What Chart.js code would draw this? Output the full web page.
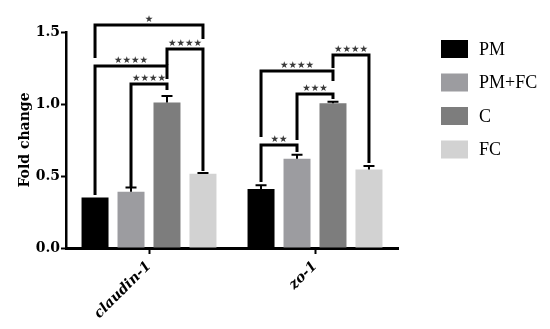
<!DOCTYPE html>
<html>
<head>
<meta charset="utf-8">
<script src="https://cdn.jsdelivr.net/npm/chart.js@4.4.1/dist/chart.umd.min.js"></script>
<style>
  html, body { margin: 0; padding: 0; background: #fff; }
  canvas { display: block; }
</style>
</head>
<body>
<canvas id="chart" width="550" height="329"></canvas>
<script>
// categories and groups
const categories = ["claudin-1", "zo-1"];
const groupNames = ["PM", "PM+FC", "C", "FC"];
const groupColors = ["#000000", "#9c9ca0", "#7d7d7d", "#d2d2d2"];

// mean fold change per group (claudin-1, zo-1)
const pmValues = [0.35, 0.41];
const pmFcValues = [0.39, 0.62];
const cValues = [1.01, 1.005];
const fcValues = [0.515, 0.546];

// upper error (SEM)
const pmErrors = [0.0, 0.025];
const pmFcErrors = [0.03, 0.028];
const cErrors = [0.045, 0.01];
const fcErrors = [0.005, 0.023];

const yTicks = [0, 0.5, 1.0, 1.5];

// significance brackets: category, from group, to group, level, leg ends (data units)
const claudinBrackets = [
  { cat: 0, from: 0, to: 3, top: 1.549, leftEnd: 1.319, rightEnd: 1.451, label: "*" },
  { cat: 0, from: 0, to: 2, top: 1.264, leftEnd: 0.368, rightEnd: 1.174, label: "****" },
  { cat: 0, from: 2, to: 3, top: 1.382, leftEnd: 1.271, rightEnd: 0.535, label: "****" },
  { cat: 0, from: 1, to: 2, top: 1.139, leftEnd: 0.424, rightEnd: 1.097, label: "****" }
];
const zoBrackets = [
  { cat: 1, from: 0, to: 1, top: 0.715, leftEnd: 0.458, rightEnd: 0.667, label: "**" },
  { cat: 1, from: 0, to: 2, top: 1.229, leftEnd: 0.771, rightEnd: 1.16, label: "****" },
  { cat: 1, from: 1, to: 2, top: 1.069, leftEnd: 0.75, rightEnd: 1.035, label: "***" },
  { cat: 1, from: 2, to: 3, top: 1.34, leftEnd: 1.25, rightEnd: 0.59, label: "****" }
];

const seriesValues = [pmValues, pmFcValues, cValues, fcValues];
const seriesErrors = [pmErrors, pmFcErrors, cErrors, fcErrors];

const SERIF = '"DejaVu Serif", "Liberation Serif", serif';

// upper error bars with a cap
const errorBarPlugin = {
  id: "errorBars",
  afterDatasetsDraw(chart) {
    const ctx = chart.ctx;
    const yScale = chart.scales.y;
    ctx.save();
    ctx.strokeStyle = "#000";
    ctx.lineWidth = 2;
    chart.data.datasets.forEach((ds, di) => {
      const meta = chart.getDatasetMeta(di);
      meta.data.forEach((bar, i) => {
        const err = seriesErrors[di][i];
        if (!err) return;
        const yTop = yScale.getPixelForValue(ds.data[i]);
        const yEnd = yScale.getPixelForValue(ds.data[i] + err);
        ctx.beginPath();
        ctx.moveTo(bar.x, yTop);
        ctx.lineTo(bar.x, yEnd);
        ctx.moveTo(bar.x - 5.5, yEnd);
        ctx.lineTo(bar.x + 5.5, yEnd);
        ctx.stroke();
      });
    });
    ctx.restore();
  }
};

// significance brackets
const bracketPlugin = {
  id: "brackets",
  afterDatasetsDraw(chart) {
    const ctx = chart.ctx;
    const yScale = chart.scales.y;
    ctx.save();
    [...claudinBrackets, ...zoBrackets].forEach((b) => {
      const x1 = chart.getDatasetMeta(b.from).data[b.cat].x;
      const x2 = chart.getDatasetMeta(b.to).data[b.cat].x;
      const yTop = yScale.getPixelForValue(b.top);
      ctx.strokeStyle = "#000";
      ctx.lineWidth = 3;
      ctx.lineJoin = "miter";
      ctx.beginPath();
      ctx.moveTo(x1, yScale.getPixelForValue(b.leftEnd));
      ctx.lineTo(x1, yTop);
      ctx.lineTo(x2, yTop);
      ctx.lineTo(x2, yScale.getPixelForValue(b.rightEnd));
      ctx.stroke();
      ctx.fillStyle = "#3a3a3a";
      ctx.font = '9.5px "DejaVu Sans"';
      ctx.textAlign = "center";
      ctx.textBaseline = "alphabetic";
      ctx.fillText(b.label.replace(/\*/g, "\u2605"), (x1 + x2) / 2, yTop - 3);
    });
    ctx.restore();
  }
};

// legend on the right
const legendPlugin = {
  id: "sideLegend",
  afterDraw(chart) {
    const ctx = chart.ctx;
    const left = chart.chartArea.right + 43;
    ctx.save();
    ctx.font = '18px "Liberation Serif", serif';
    ctx.textBaseline = "middle";
    ctx.textAlign = "left";
    chart.data.datasets.forEach((ds, i) => {
      const cy = 49 + i * 33.5;
      ctx.fillStyle = ds.backgroundColor;
      ctx.fillRect(left, cy - 9, 27, 18);
      ctx.fillStyle = "#000";
      ctx.fillText(ds.label, left + 38, cy + 1);
    });
    ctx.restore();
  }
};

new Chart(document.getElementById("chart"), {
  type: "bar",
  data: {
    labels: categories,
    datasets: groupNames.map((name, i) => ({
      label: name,
      data: seriesValues[i],
      backgroundColor: groupColors[i],
      borderWidth: 0,
      categoryPercentage: 0.867,
      barPercentage: 0.75
    }))
  },
  options: {
    responsive: false,
    animation: false,
    layout: { padding: { top: 32, right: 152, left: 0, bottom: 0 } },
    plugins: {
      legend: { display: false },
      tooltip: { enabled: false }
    },
    scales: {
      x: {
        grid: {
          display: true,
          drawOnChartArea: false,
          drawTicks: true,
          offset: false,
          tickLength: 6,
          tickWidth: 2,
          tickColor: "#000"
        },
        border: { color: "#000", width: 3 },
        ticks: {
          color: "#000",
          minRotation: 45,
          maxRotation: 45,
          padding: 4,
          font: { family: SERIF, size: 14, weight: "bold", style: "italic" }
        },
        afterFit(scale) { scale.height = 81; }
      },
      y: {
        min: 0,
        max: 1.5,
        afterBuildTicks(scale) { scale.ticks = yTicks.map((v) => ({ value: v })); },
        grid: {
          display: true,
          drawOnChartArea: false,
          drawTicks: true,
          tickLength: 5,
          tickWidth: 2,
          tickColor: "#000"
        },
        border: { color: "#000", width: 2.5 },
        ticks: {
          color: "#000",
          padding: 1,
          font: { family: SERIF, size: 14, weight: "bold" },
          callback: (v) => Number(v).toFixed(1)
        },
        title: {
          display: true,
          text: "Fold change",
          color: "#000",
          padding: { top: 17, bottom: 0 },
          font: { family: SERIF, size: 14, weight: "bold" }
        },
        afterFit(scale) { scale.width = 66; }
      }
    }
  },
  plugins: [errorBarPlugin, bracketPlugin, legendPlugin]
});
</script>
</body>
</html>
